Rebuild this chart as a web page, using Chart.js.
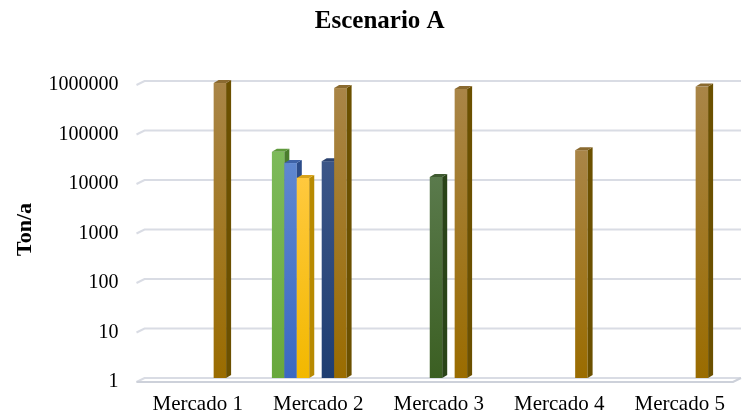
<!DOCTYPE html>
<html>
<head>
<meta charset="utf-8">
<script src="https://cdn.jsdelivr.net/npm/chart.js@4.4.1/dist/chart.umd.min.js"></script>
<style>
  html, body { margin: 0; padding: 0; background: #ffffff; }
  #wrap { width: 749px; height: 415px; }
</style>
</head>
<body>
<div id="wrap"><canvas id="chart" width="749" height="415"></canvas></div>
<script>
// Categories and series (Ton/a)
const categories = ['Mercado 1', 'Mercado 2', 'Mercado 3', 'Mercado 4', 'Mercado 5'];
const serie1 = [null, 37000, null, null, null];
const serie2 = [null, 22000, null, null, null];
const serie3 = [null, 11000, null, null, null];
const serie4 = [null, null, 11500, null, null];
const serie5 = [null, 24000, null, null, null];
const serie6 = [910000, 720000, 690000, 40000, 770000];
const yTicks = [1, 10, 100, 1000, 10000, 100000, 1000000];

// Face colours for each series: front gradient (top, bottom), top face, side face
const palette = [
  { front: ['#7dba5a', '#68a83c'], top: '#5f9a3c', side: '#4a7d2c' },
  { front: ['#5f87d0', '#3a68c2'], top: '#3f63a8', side: '#2c4c8a' },
  { front: ['#ffc93e', '#f2b800'], top: '#d9a41c', side: '#b88a00' },
  { front: ['#5a7a4c', '#3b5f22'], top: '#3f5a30', side: '#2a4418' },
  { front: ['#3c5688', '#1f3e72'], top: '#2c4370', side: '#172f58' },
  { front: ['#a98547', '#9a6c00'], top: '#8a6a30', side: '#6b5000' }
];

const depthX = 5, depthY = 3;       // bar depth
const wallX = 8, wallY = 4;         // wall / floor depth

const gridPlugin = {
  id: 'wallGrid',
  beforeDatasetsDraw(chart) {
    const { ctx, chartArea, scales } = chart;
    const y = scales.y;
    const frontL = chartArea.left + 8;
    const backL = frontL + wallX;
    const backR = chartArea.right + 10;
    ctx.save();
    ctx.lineWidth = 2;
    ctx.strokeStyle = '#d9dce4';
    y.ticks.forEach(t => {
      const py = y.getPixelForValue(t.value);
      ctx.beginPath();
      ctx.moveTo(frontL, py + wallY);
      ctx.lineTo(backL, py);
      ctx.lineTo(backR, py);
      ctx.stroke();
    });
    // floor front edge
    const py0 = y.getPixelForValue(yTicks[0]);
    ctx.strokeStyle = '#cdd1da';
    ctx.beginPath();
    ctx.moveTo(frontL, py0 + wallY);
    ctx.lineTo(backR - wallX, py0 + wallY);
    ctx.lineTo(backR, py0);
    ctx.stroke();
    ctx.restore();
  }
};

const barsPlugin = {
  id: 'bars3d',
  afterDatasetsDraw(chart) {
    const ctx = chart.ctx;
    const bars = [];
    chart.data.datasets.forEach((ds, i) => {
      const meta = chart.getDatasetMeta(i);
      meta.data.forEach((el, j) => {
        if (ds.data[j] == null) return;
        const p = el.getProps(['x', 'y', 'base', 'width'], true);
        bars.push({ p, c: palette[i] });
      });
    });
    bars.sort((a, b) => a.p.x - b.p.x);
    ctx.save();
    bars.forEach(({ p, c }) => {
      const l = p.x - p.width / 2, r = p.x + p.width / 2;
      const top = p.y, base = p.base;
      // front face
      const g = ctx.createLinearGradient(0, top, 0, base);
      g.addColorStop(0, c.front[0]);
      g.addColorStop(1, c.front[1]);
      ctx.fillStyle = g;
      ctx.fillRect(l, top, r - l, base - top);
      // side face
      ctx.fillStyle = c.side;
      ctx.beginPath();
      ctx.moveTo(r, top);
      ctx.lineTo(r + depthX, top - depthY);
      ctx.lineTo(r + depthX, base - depthY);
      ctx.lineTo(r, base);
      ctx.closePath();
      ctx.fill();
      // top face
      ctx.fillStyle = c.top;
      ctx.beginPath();
      ctx.moveTo(l, top);
      ctx.lineTo(l + depthX, top - depthY);
      ctx.lineTo(r + depthX, top - depthY);
      ctx.lineTo(r, top);
      ctx.closePath();
      ctx.fill();
    });
    ctx.restore();
  }
};

const seriesData = [serie1, serie2, serie3, serie4, serie5, serie6];
const datasets = seriesData.map((d, i) => ({
  label: 'Serie ' + (i + 1),
  data: d,
  backgroundColor: 'rgba(0,0,0,0)',
  borderWidth: 0,
  categoryPercentage: 0.62,
  barPercentage: 1.0
}));

new Chart(document.getElementById('chart'), {
  type: 'bar',
  data: { labels: categories, datasets },
  options: {
    responsive: false,
    animation: false,
    layout: { padding: { left: 28.5, right: 18, top: 0, bottom: 0 } },
    plugins: {
      legend: { display: false },
      tooltip: { enabled: false },
      title: {
        display: true,
        text: 'Escenario A',
        color: '#000000',
        font: { family: 'Liberation Serif', size: 25, weight: 'bold' },
        padding: { top: 7, bottom: 44 }
      }
    },
    scales: {
      x: {
        grid: { display: false },
        border: { display: false },
        ticks: {
          color: '#000000',
          font: { family: 'Liberation Serif', size: 21 },
          padding: 6,
          labelOffset: 9,
          maxRotation: 0,
          autoSkip: false
        },
        afterFit: s => { s.height = 37; }
      },
      y: {
        type: 'logarithmic',
        min: yTicks[0],
        max: yTicks[yTicks.length - 1],
        grid: { display: false, drawTicks: false },
        border: { display: false },
        afterBuildTicks: s => { s.ticks = yTicks.map(v => ({ value: v })); },
        ticks: {
          color: '#000000',
          font: { family: 'Liberation Serif', size: 20 },
          padding: 10,
          labelOffset: 4,
          autoSkip: false,
          callback: v => String(v)
        },
        title: {
          display: true,
          text: 'Ton/a',
          color: '#000000',
          font: { family: 'Liberation Serif', size: 22, weight: 'bold' },
          padding: { top: -16, bottom: 0 }
        },
        afterFit: s => { s.width = 100; }
      }
    }
  },
  plugins: [gridPlugin, barsPlugin]
});
</script>
</body>
</html>
